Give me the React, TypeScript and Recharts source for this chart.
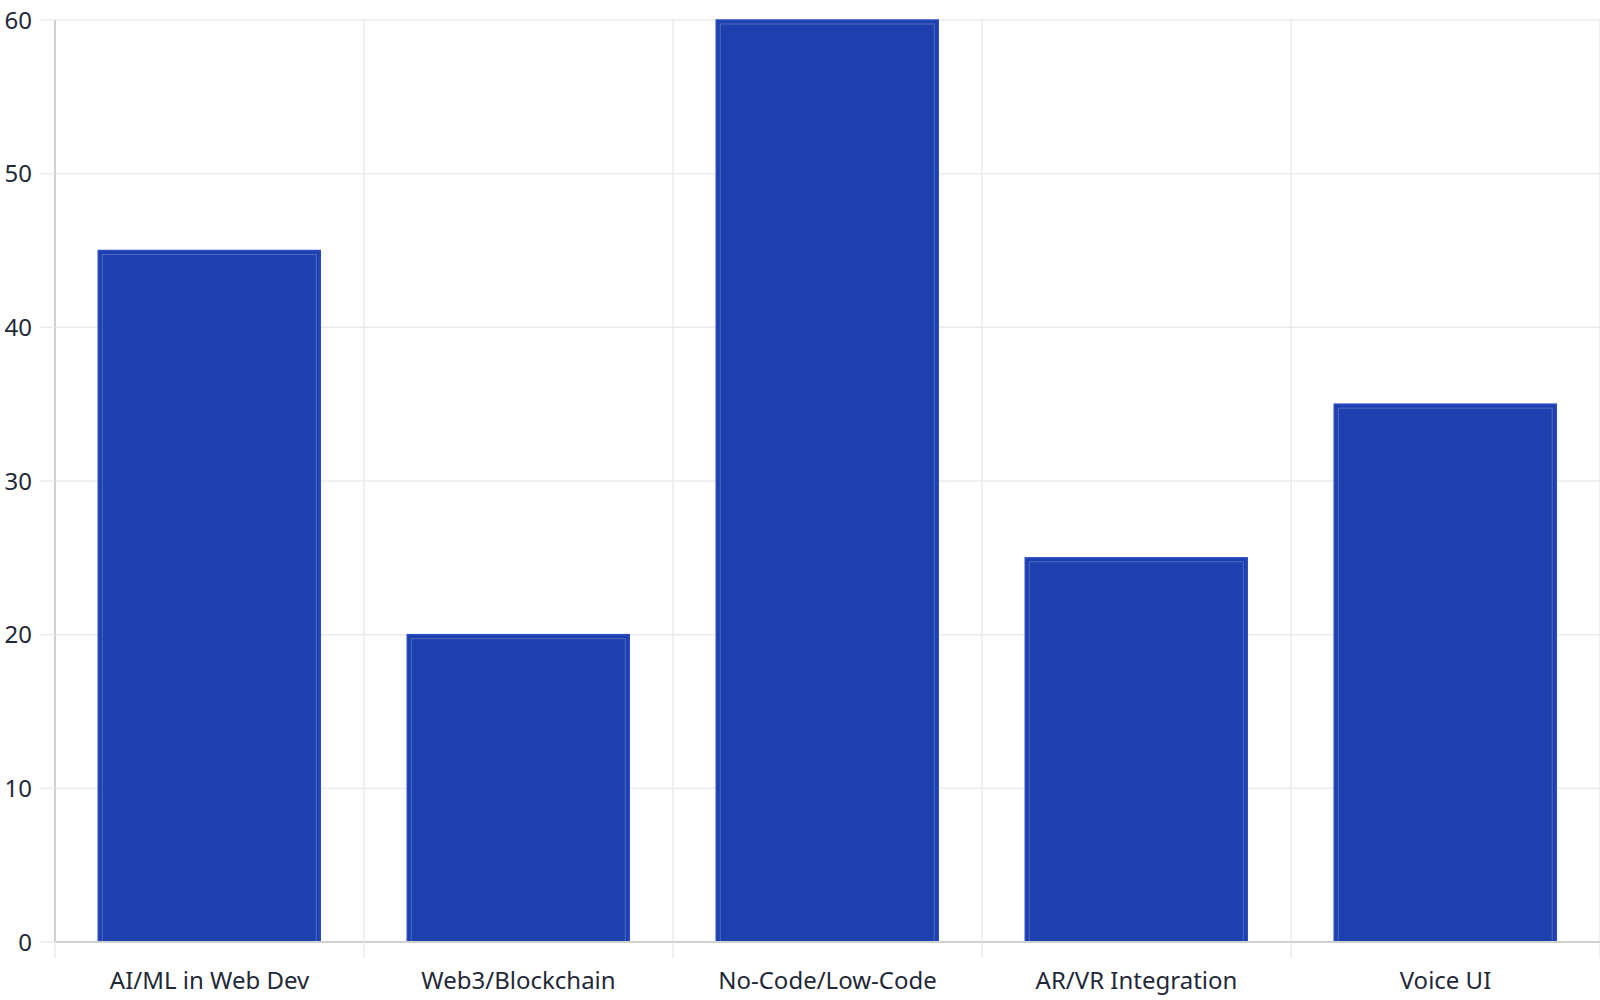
import { Bar, BarChart, CartesianGrid, XAxis, YAxis } from "recharts"

const categories = ["AI/ML in Web Dev", "Web3/Blockchain", "No-Code/Low-Code", "AR/VR Integration", "Voice UI"]
const adoption = [45, 20, 60, 25, 35]
const yTicks = [0, 10, 20, 30, 40, 50, 60]

const data = categories.map((name, i) => ({ name, value: adoption[i] }))

const textColor = "#1f2937"
const gridColor = "#ebebeb"
const axisColor = "#d0d0d0"
const barColor = "#1e40af"

function BarShape(props: any) {
  const { x, y, width, height } = props
  if (!height || height <= 0) return null
  return (
    <g>
      <rect x={x} y={y} width={width} height={height} fill={barColor} stroke="#2b4cc2" strokeWidth={1.5} />
      <rect
        x={x + 4}
        y={y + 4}
        width={width - 8}
        height={height - 4}
        fill="none"
        stroke="rgba(255,255,255,0.22)"
        strokeWidth={1}
      />
    </g>
  )
}

function CategoryTick(props: any) {
  const { x, y, payload, index, width, visibleTicksCount } = props
  const band = width / visibleTicksCount
  const left = x - band / 2
  return (
    <g>
      <line x1={left} y1={y - 30} x2={left} y2={y - 14} stroke={gridColor} strokeWidth={1.5} />
      {index === visibleTicksCount - 1 && (
        <line x1={left + band} y1={y - 30} x2={left + band} y2={y - 14} stroke={gridColor} strokeWidth={1.5} />
      )}
      <text x={x} y={y} dy="0.71em" textAnchor="middle" fill={textColor} fontSize={24} fontFamily="'Noto Sans'">
        {payload.value}
      </text>
    </g>
  )
}

export default function App() {
  return (
    <div style={{ position: "absolute", left: 0, top: 0, width: 1600, height: 1000, background: "#fff" }}>
      <BarChart
        width={1600}
        height={1000}
        data={data}
        margin={{ top: 20, right: 0, bottom: 0, left: 0 }}
        barCategoryGap="14%"
      >
        <CartesianGrid
          stroke={gridColor}
          strokeWidth={1.5}
          verticalCoordinatesGenerator={({ offset }: any) =>
            categories.map((_, i) => offset.left + (i * offset.width) / categories.length).concat(offset.left + offset.width)
          }
        />
        <XAxis
          dataKey="name"
          height={58}
          tickLine={false}
          tickSize={16}
          tickMargin={14}
          axisLine={{ stroke: axisColor, strokeWidth: 2 }}
          tick={<CategoryTick />}
          interval={0}
        />
        <YAxis
          width={55}
          domain={[0, 60]}
          ticks={yTicks}
          tickSize={15}
          tickMargin={8}
          tickLine={{ stroke: gridColor, strokeWidth: 1.5 }}
          axisLine={{ stroke: axisColor, strokeWidth: 2 }}
          tick={{ fill: textColor, fontSize: 24, fontFamily: "'Noto Sans'" }}
        />
        <Bar dataKey="value" isAnimationActive={false} shape={<BarShape />} />
      </BarChart>
    </div>
  )
}
